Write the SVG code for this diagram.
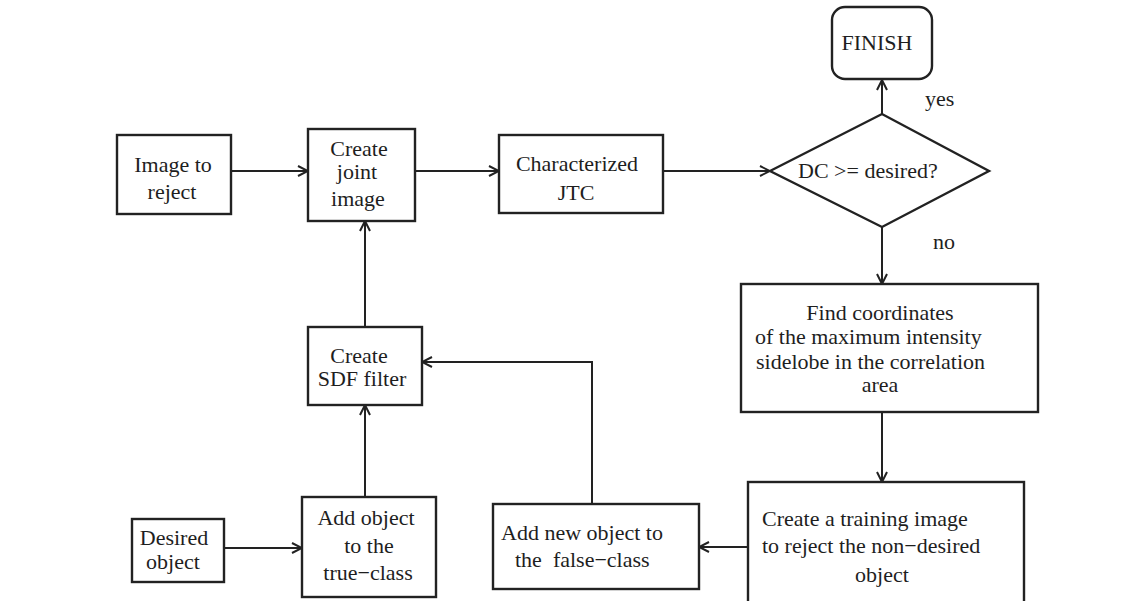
<svg xmlns="http://www.w3.org/2000/svg" width="1140" height="601" viewBox="0 0 1140 601">
  <defs>
    <style>
      .box { fill: #fff; stroke: #222; stroke-width: 2.4; }
      .edge { fill: none; stroke: #222; stroke-width: 2; }
      .lbl { font-size: 22px; fill: #1e1e1e; white-space: pre; }
      .c { text-anchor: middle; }
    </style>
    <marker id="arrow" viewBox="0 0 12 12" refX="11" refY="6" markerWidth="12" markerHeight="12" markerUnits="userSpaceOnUse" orient="auto">
      <path d="M1,1 L11,6 L1,11" fill="none" stroke="#222" stroke-width="2"/>
    </marker>
  </defs>
  <rect width="1140" height="601" fill="#fff"/>

  <g font-family="'Liberation Serif', 'Times New Roman', serif">
    <!-- connectors -->
    <g id="connectors">
      <line class="edge" x1="231" y1="171" x2="308" y2="171" marker-end="url(#arrow)"/>
      <line class="edge" x1="415" y1="171" x2="499" y2="171" marker-end="url(#arrow)"/>
      <line class="edge" x1="663" y1="171" x2="770" y2="171" marker-end="url(#arrow)"/>
      <line class="edge" x1="882" y1="114" x2="882" y2="80" marker-end="url(#arrow)"/>
      <line class="edge" x1="882" y1="227" x2="882" y2="284" marker-end="url(#arrow)"/>
      <line class="edge" x1="882" y1="412" x2="882" y2="482" marker-end="url(#arrow)"/>
      <line class="edge" x1="748" y1="547" x2="699" y2="547" marker-end="url(#arrow)"/>
      <polyline class="edge" points="592,504 592,362 422,362" marker-end="url(#arrow)"/>
      <line class="edge" x1="365" y1="497" x2="365" y2="405" marker-end="url(#arrow)"/>
      <line class="edge" x1="365" y1="327" x2="365" y2="221" marker-end="url(#arrow)"/>
      <line class="edge" x1="224" y1="548" x2="302" y2="548" marker-end="url(#arrow)"/>
      <text class="lbl" x="925" y="106">yes</text>
      <text class="lbl" x="933" y="249">no</text>
    </g>

    <g id="image-to-reject">
      <rect class="box" x="117" y="135" width="114" height="79"/>
      <text class="lbl c" x="173" y="172">Image to</text>
      <text class="lbl c" x="172" y="199">reject</text>
    </g>

    <g id="create-joint-image">
      <rect class="box" x="308" y="129" width="107" height="92"/>
      <text class="lbl c" x="359" y="156">Create</text>
      <text class="lbl c" x="357" y="179">joint</text>
      <text class="lbl c" x="358" y="206">image</text>
    </g>

    <g id="characterized-jtc">
      <rect class="box" x="499" y="135" width="164" height="78"/>
      <text class="lbl c" x="577" y="171">Characterized</text>
      <text class="lbl c" x="576" y="200">JTC</text>
    </g>

    <g id="decision">
      <polygon class="box" points="770,171 882,114 989,171 882,227"/>
      <text class="lbl" x="798" y="178">DC &gt;= desired?</text>
    </g>

    <g id="finish">
      <rect class="box" x="832" y="7" width="100" height="72" rx="13" ry="13"/>
      <text class="lbl c" x="877" y="50">FINISH</text>
    </g>

    <g id="find-coordinates">
      <rect class="box" x="741" y="284" width="297" height="128"/>
      <text class="lbl c" x="880" y="320">Find coordinates</text>
      <text class="lbl" x="755" y="344">of the maximum intensity</text>
      <text class="lbl" x="756" y="369">sidelobe in the correlation</text>
      <text class="lbl c" x="880" y="392">area</text>
    </g>

    <g id="create-training-image">
      <rect class="box" x="748" y="482" width="276" height="130"/>
      <text class="lbl" x="762" y="526">Create a training image</text>
      <text class="lbl" x="762" y="553">to reject the non−desired</text>
      <text class="lbl c" x="882" y="582">object</text>
    </g>

    <g id="add-new-object">
      <rect class="box" x="493" y="504" width="206" height="85"/>
      <text class="lbl" x="501" y="540">Add new object to</text>
      <text class="lbl" x="515" y="567">the  false−class</text>
    </g>

    <g id="create-sdf-filter">
      <rect class="box" x="308" y="327" width="114" height="78"/>
      <text class="lbl c" x="359" y="363">Create</text>
      <text class="lbl c" x="362" y="386">SDF filter</text>
    </g>

    <g id="add-object-true-class">
      <rect class="box" x="302" y="497" width="134" height="100"/>
      <text class="lbl c" x="366" y="525">Add object</text>
      <text class="lbl c" x="369" y="553">to the</text>
      <text class="lbl c" x="368" y="580">true−class</text>
    </g>

    <g id="desired-object">
      <rect class="box" x="132" y="519" width="92" height="63"/>
      <text class="lbl c" x="174" y="545">Desired</text>
      <text class="lbl c" x="173" y="569">object</text>
    </g>
  </g>
</svg>
